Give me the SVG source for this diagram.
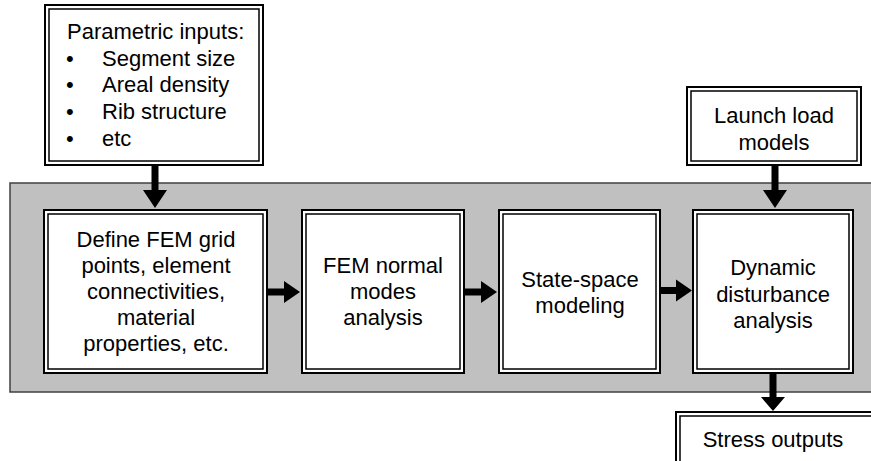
<svg xmlns="http://www.w3.org/2000/svg" width="871" height="461" viewBox="0 0 871 461">
<style>
.o{fill:#fff;stroke:#000;stroke-width:2}
.i{fill:none;stroke:#000;stroke-width:1.5}
text{font-family:"Liberation Sans",Arial,sans-serif;font-size:22px;fill:#000}
.c{text-anchor:middle}
</style>
<rect x="10" y="183" width="870" height="209" fill="#c0c0c0" stroke="#404040" stroke-width="1.5"/>
<g id="param">
<rect class="o" x="45" y="5" width="218" height="160"/>
<rect class="i" x="49" y="9" width="210" height="152"/>
<text x="67" y="39">Parametric inputs:</text>
<text x="66" y="66">•</text><text x="102" y="66">Segment size</text>
<text x="66" y="92">•</text><text x="102" y="92">Areal density</text>
<text x="66" y="119">•</text><text x="102" y="119">Rib structure</text>
<text x="66" y="146">•</text><text x="102" y="146">etc</text>
</g>
<g id="define">
<rect class="o" x="44" y="210" width="223" height="163"/>
<rect class="i" x="48" y="214" width="215" height="155"/>
<text class="c" x="156" y="247">Define FEM grid</text>
<text class="c" x="156" y="273">points, element</text>
<text class="c" x="156" y="299">connectivities,</text>
<text class="c" x="156" y="325">material</text>
<text class="c" x="156" y="351">properties, etc.</text>
</g>
<g id="fem">
<rect class="o" x="302" y="210" width="162" height="163"/>
<rect class="i" x="306" y="214" width="154" height="155"/>
<text class="c" x="383" y="273">FEM normal</text>
<text class="c" x="383" y="299">modes</text>
<text class="c" x="383" y="325">analysis</text>
</g>
<g id="state">
<rect class="o" x="499" y="210" width="161" height="163"/>
<rect class="i" x="503" y="214" width="153" height="155"/>
<text class="c" x="580" y="287">State-space</text>
<text class="c" x="580" y="313">modeling</text>
</g>
<g id="dynamic">
<rect class="o" x="693" y="210" width="160" height="163"/>
<rect class="i" x="697" y="214" width="152" height="155"/>
<text class="c" x="773" y="275">Dynamic</text>
<text class="c" x="773" y="302">disturbance</text>
<text class="c" x="773" y="328">analysis</text>
</g>
<g id="launch">
<rect class="o" x="687" y="87" width="174" height="78"/>
<rect class="i" x="691" y="91" width="166" height="70"/>
<text class="c" x="774" y="123">Launch load</text>
<text class="c" x="774" y="150">models</text>
</g>
<g id="stress">
<rect class="o" x="676" y="412" width="200" height="60"/>
<rect class="i" x="680" y="416" width="192" height="52"/>
<text class="c" x="773" y="447">Stress outputs</text>
</g>
<g id="connectors" fill="#000">
<path d="M151.5 165H158.5V190H167L155 208L143 190H151.5Z"/>
<path d="M267 288.5H284V281L300 292L284 303V295.5H267Z"/>
<path d="M464 288.5H481V281L497 292L481 303V295.5H464Z"/>
<path d="M660 287H676V279.5L692 290.5L676 301.5V294H660Z"/>
<path d="M771.5 165H778.5V190H787L775 208L763 190H771.5Z"/>
<path d="M769.5 373H776.5V397H785L773 411L761 397H769.5Z"/>
</g>
</svg>
